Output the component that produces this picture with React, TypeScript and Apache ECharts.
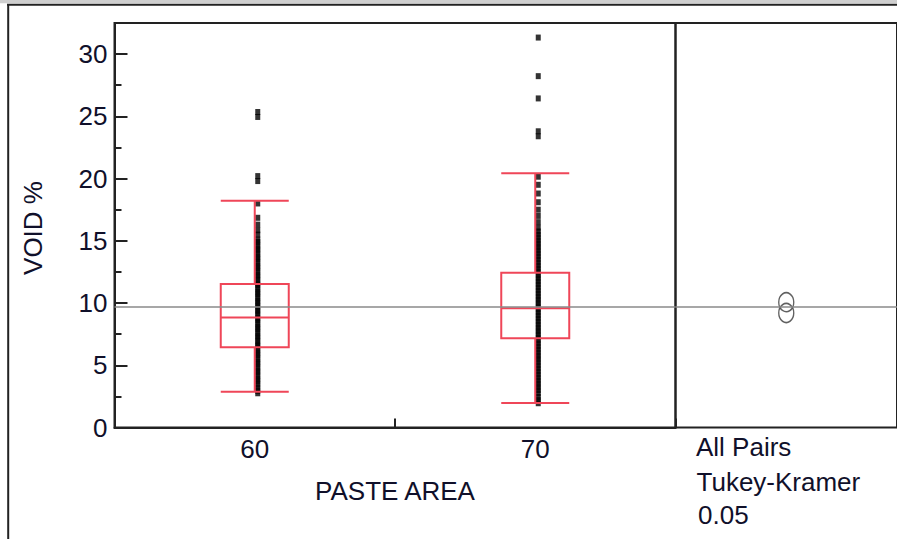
import React, { useEffect, useRef } from "react";
import * as echarts from "echarts";

// ---- data ----
const categories = ["60", "70"];
// [min whisker, Q1, median, Q3, max whisker]
const boxStats60 = [2.87, 6.45, 8.83, 11.53, 18.22];
const boxStats70 = [1.96, 7.17, 9.58, 12.44, 20.42];
const points60 = [
  2.75, 2.95, 3.2, 3.45, 3.7, 3.9, 4.15, 4.4, 4.6, 4.85, 5.1, 5.3, 5.55, 5.8, 6.0, 6.25,
  6.5, 6.7, 6.95, 7.2, 7.4, 7.65, 7.9, 8.1, 8.35, 8.6, 8.8, 9.05, 9.3, 9.5, 9.75, 10.0,
  10.2, 10.45, 10.7, 10.9, 11.15, 11.4, 11.6, 11.85, 12.1, 12.3, 12.55, 12.8, 13.0, 13.25,
  13.5, 13.7, 13.95, 14.2, 14.4, 14.65, 14.9, 15.1, 15.5, 15.85, 16.3, 16.85, 18.0,
  19.8, 20.2, 24.95, 25.35,
];
const points70 = [
  1.95, 2.2, 2.45, 2.75, 3.0, 3.25, 3.5, 3.75, 4.0, 4.25, 4.5, 4.75, 5.0, 5.25, 5.5, 5.75,
  6.0, 6.25, 6.5, 6.75, 7.0, 7.25, 7.5, 7.75, 8.0, 8.25, 8.5, 8.75, 9.0, 9.25, 9.5, 9.75,
  10.0, 10.25, 10.5, 10.75, 11.0, 11.25, 11.5, 11.75, 12.0, 12.25, 12.5, 12.75, 13.0,
  13.25, 13.5, 13.75, 14.0, 14.25, 14.5, 14.75, 15.0, 15.25, 15.5, 15.75, 16.05, 16.5,
  17.0, 17.5, 18.1, 18.8, 19.5, 20.15, 23.4, 23.8, 26.44, 28.23, 31.33,
];
const groupMeans = [9.2, 10.07];
const grandMean = 9.73;
const yMin = 0;
const yMax = 32.5;
const yInterval = 5;
const yMinorInterval = 2.5;
const comparisonLabels = ["All Pairs", "Tukey-Kramer", "0.05"];

const FONT = "'Liberation Sans', Arial, Helvetica, sans-serif";
const FRAME = "#222222";
const RED = "#ef4658";
const TEXT = "#10102a";

export default function App() {
  const ref = useRef<HTMLDivElement>(null);

  useEffect(() => {
    if (!ref.current) return;
    const chart = echarts.init(ref.current, undefined, { renderer: "svg" });

    const meanLine = {
      silent: true,
      symbol: "none",
      label: { show: false },
      emphasis: { disabled: true },
      lineStyle: { color: "#8a8a8a", width: 1.5, type: "solid" },
      data: [{ yAxis: grandMean }],
    };

    const option: any = {
      animation: false,
      backgroundColor: "#ffffff",
      grid: [
        {
          left: 114.5, top: 23, width: 561, height: 404.5,
          show: true, borderColor: FRAME, borderWidth: 2, backgroundColor: "transparent",
        },
        {
          left: 675.5, top: 23, width: 227, height: 404.5,
          show: true, borderColor: FRAME, borderWidth: 2, backgroundColor: "transparent",
        },
      ],
      xAxis: [
        {
          type: "category",
          gridIndex: 0,
          data: categories,
          boundaryGap: true,
          axisLine: { show: true, lineStyle: { color: FRAME, width: 2 } },
          axisTick: { show: true, inside: true, length: 9, lineStyle: { color: FRAME, width: 2 } },
          axisLabel: { fontSize: 26, color: TEXT, fontFamily: FONT, margin: 8 },
          splitLine: { show: false },
          name: "PASTE AREA",
          nameLocation: "middle",
          nameGap: 50,
          nameTextStyle: { fontSize: 26, color: TEXT, fontFamily: FONT },
        },
        { type: "value", gridIndex: 1, min: 0, max: 1, show: false },
      ],
      yAxis: [
        {
          type: "value",
          gridIndex: 0,
          min: yMin,
          max: yMax,
          interval: yInterval,
          axisLine: { show: true, lineStyle: { color: FRAME, width: 2 } },
          axisTick: { show: true, inside: true, length: 13, lineStyle: { color: FRAME, width: 2 } },
          axisLabel: {
            showMaxLabel: false, fontSize: 26, color: TEXT, fontFamily: FONT, margin: 7,
          },
          splitLine: { show: false },
        },
        {
          type: "value",
          gridIndex: 0,
          position: "left",
          min: yMin,
          max: yMax,
          interval: yMinorInterval,
          axisLine: { show: false },
          axisTick: { show: true, inside: true, length: 7, lineStyle: { color: FRAME, width: 2 } },
          axisLabel: { show: false },
          splitLine: { show: false },
        },
        { type: "value", gridIndex: 1, min: yMin, max: yMax, show: false },
      ],
      series: [
        {
          type: "scatter",
          xAxisIndex: 0,
          yAxisIndex: 0,
          data: [
            ...points60.map((v) => [0, v]),
            ...points70.map((v) => [1, v]),
          ],
          symbol: "rect",
          symbolSize: [5, 6],
          symbolOffset: [3, 0],
          itemStyle: { color: "#000" },
          silent: true,
          z: 2,
          markLine: meanLine,
        },
        {
          type: "boxplot",
          xAxisIndex: 0,
          yAxisIndex: 0,
          data: [boxStats60, boxStats70],
          boxWidth: [68, 68],
          itemStyle: { color: "transparent", borderColor: RED, borderWidth: 2 },
          silent: true,
          z: 3,
        },
        {
          type: "scatter",
          xAxisIndex: 1,
          yAxisIndex: 2,
          data: groupMeans.map((m) => [0.5, m]),
          symbol: "circle",
          symbolSize: [15, 19],
          itemStyle: { color: "transparent", borderColor: "#3a3a3a", borderWidth: 1.5 },
          silent: true,
          z: 3,
          markLine: meanLine,
        },
      ],
      graphic: [
        { type: "rect", shape: { x: 0, y: 0, width: 897, height: 3.3 }, style: { fill: "#cfcfcf" }, silent: true },
        { type: "line", shape: { x1: 7, y1: 4.8, x2: 897, y2: 4.8 }, style: { stroke: FRAME, lineWidth: 2 }, silent: true },
        { type: "line", shape: { x1: 8.2, y1: 4.8, x2: 8.2, y2: 539 }, style: { stroke: FRAME, lineWidth: 2 }, silent: true },
        {
          type: "text",
          x: 33, y: 228, rotation: Math.PI / 2,
          style: { text: "VOID %", font: `26px ${FONT}`, fill: TEXT, align: "center", verticalAlign: "middle" },
          silent: true,
        },
        {
          type: "text", x: 696, y: 447,
          style: { text: comparisonLabels[0], font: `26px ${FONT}`, fill: TEXT, align: "left", verticalAlign: "middle" },
          silent: true,
        },
        {
          type: "text", x: 696.5, y: 482,
          style: { text: comparisonLabels[1], font: `26px ${FONT}`, fill: TEXT, align: "left", verticalAlign: "middle" },
          silent: true,
        },
        {
          type: "text", x: 698, y: 515,
          style: { text: comparisonLabels[2], font: `26px ${FONT}`, fill: TEXT, align: "left", verticalAlign: "middle" },
          silent: true,
        },
      ],
    };

    chart.setOption(option);
    return () => chart.dispose();
  }, []);

  return (
    <div
      ref={ref}
      style={{ position: "absolute", left: 0, top: 0, width: 897, height: 539, background: "#fff" }}
    />
  );
}
